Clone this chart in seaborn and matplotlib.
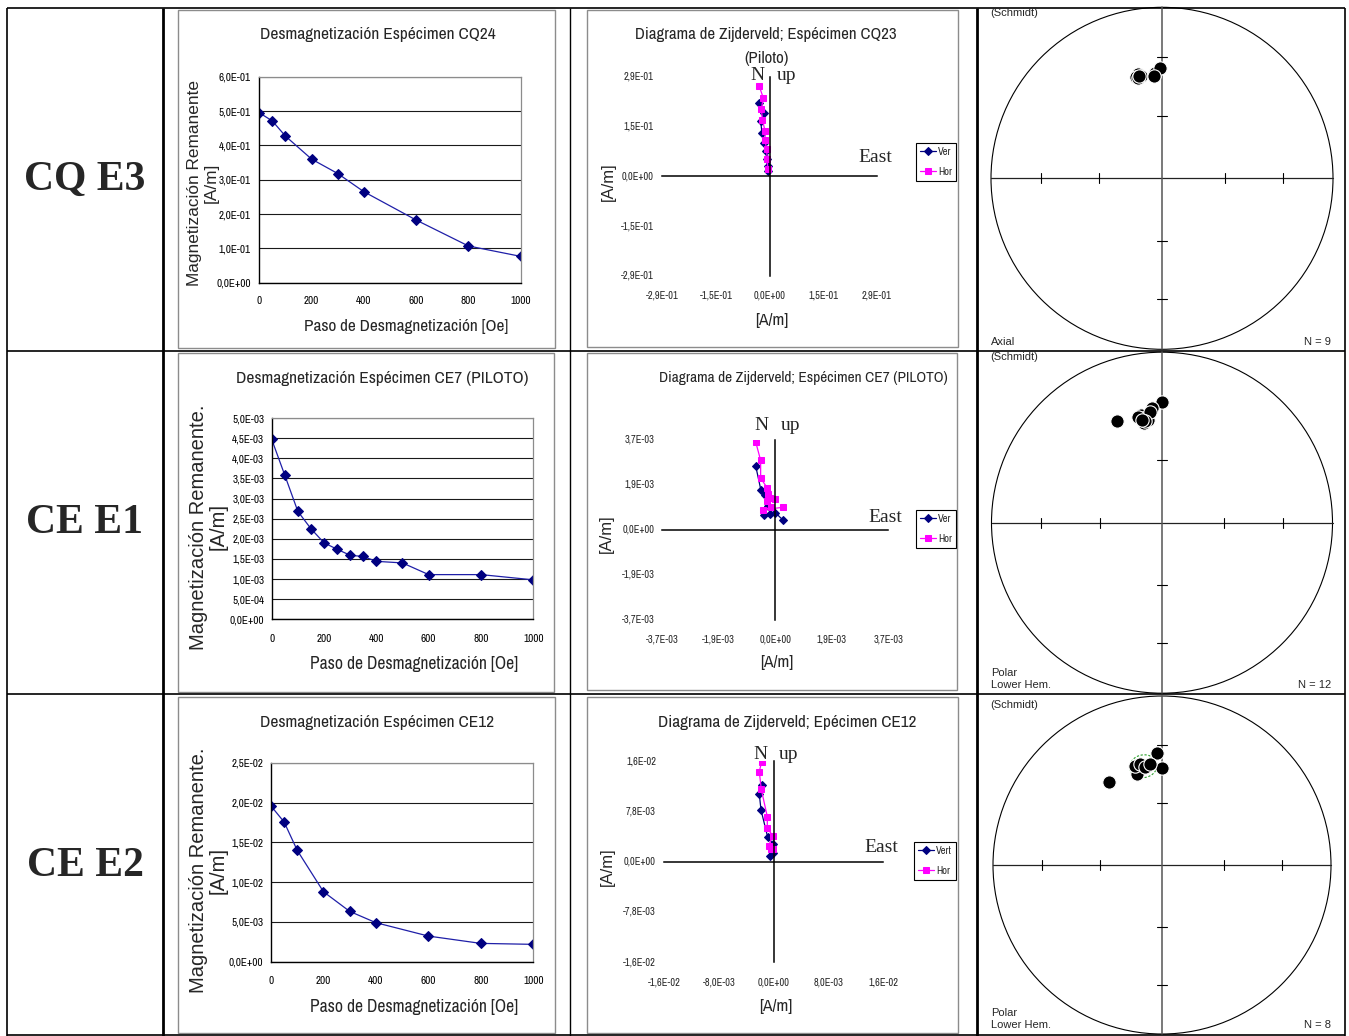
import numpy as np
import matplotlib
matplotlib.use("Agg")
import matplotlib.pyplot as plt
import matplotlib.transforms as mtransforms
from matplotlib.patches import Circle, Rectangle
from matplotlib import font_manager
from matplotlib.font_manager import FontProperties
import seaborn as sns

# ---------------------------------------------------------------- data
row_names = ["CQ E3", "CE E1", "CE E2"]

# demagnetisation curves (step in Oe, remanence in A/m)
steps_cq24 = [0, 50, 100, 200, 300, 400, 600, 800, 1000]
mag_cq24 = [0.495, 0.471, 0.427, 0.360, 0.318, 0.265, 0.1825, 0.107, 0.0767]

steps_ce7 = [0, 50, 100, 150, 200, 250, 300, 350, 400, 500, 600, 800, 1000]
mag_ce7 = [4.47e-3, 3.58e-3, 2.68e-3, 2.25e-3, 1.90e-3, 1.74e-3, 1.59e-3,
           1.56e-3, 1.44e-3, 1.40e-3, 1.11e-3, 1.11e-3, 0.98e-3]

steps_ce12 = [0, 50, 100, 200, 300, 400, 600, 800, 1000]
mag_ce12 = [1.956e-2, 1.755e-2, 1.399e-2, 8.79e-3, 6.32e-3, 4.90e-3,
            3.22e-3, 2.30e-3, 2.18e-3]

step_ticks = [0, 200, 400, 600, 800, 1000]
step_labels = ["0", "200", "400", "600", "800", "1000"]

cq24_yticks = [0.0, 0.1, 0.2, 0.3, 0.4, 0.5, 0.6]
cq24_ylabels = ["0,0E+00", "1,0E-01", "2,0E-01", "3,0E-01", "4,0E-01", "5,0E-01", "6,0E-01"]
ce7_yticks = [0.0, 5e-4, 1e-3, 1.5e-3, 2e-3, 2.5e-3, 3e-3, 3.5e-3, 4e-3, 4.5e-3, 5e-3]
ce7_ylabels = ["0,0E+00", "5,0E-04", "1,0E-03", "1,5E-03", "2,0E-03", "2,5E-03",
               "3,0E-03", "3,5E-03", "4,0E-03", "4,5E-03", "5,0E-03"]
ce12_yticks = [0.0, 5e-3, 1e-2, 1.5e-2, 2e-2, 2.5e-2]
ce12_ylabels = ["0,0E+00", "5,0E-03", "1,0E-02", "1,5E-02", "2,0E-02", "2,5E-02"]

# Zijderveld components (East, North/Up) in A/m
cq23_ver_e = [-0.028, -0.015, -0.024, -0.020, -0.014, -0.010, -0.007, -0.005, -0.004]
cq23_ver_n = [0.213, 0.184, 0.160, 0.125, 0.098, 0.074, 0.050, 0.030, 0.015]
cq23_hor_e = [-0.028, -0.017, -0.022, -0.019, -0.012, -0.012, -0.008, -0.006, -0.005]
cq23_hor_n = [0.263, 0.229, 0.195, 0.165, 0.131, 0.105, 0.080, 0.050, 0.020]
cq23_ticks = [-0.29, -0.145, 0.0, 0.145, 0.29]
cq23_labels = ["-2,9E-01", "-1,5E-01", "0,0E+00", "1,5E-01", "2,9E-01"]

ce7_ver_e = [-6.4e-4, -4.7e-4, -3.4e-4, -2.5e-4, -3.7e-4, -1.7e-4, 0.0, 2.4e-4]
ce7_ver_n = [2.61e-3, 1.62e-3, 1.41e-3, 0.97e-3, 0.59e-3, 0.63e-3, 0.70e-3, 0.41e-3]
ce7_hor_e = [-6.4e-4, -4.8e-4, -4.8e-4, -2.6e-4, -2.3e-4, -1.7e-4, 0.0, -2.6e-4,
             -1.5e-4, -3.9e-4, 2.4e-4]
ce7_hor_n = [3.60e-3, 2.85e-3, 2.12e-3, 1.71e-3, 1.48e-3, 1.32e-3, 1.26e-3, 1.17e-3,
             0.93e-3, 0.82e-3, 0.92e-3]
ce7_zticks = [-3.7e-3, -1.85e-3, 0.0, 1.85e-3, 3.7e-3]
ce7_zlabels = ["-3,7E-03", "-1,9E-03", "0,0E+00", "1,9E-03", "3,7E-03"]

ce12_ver_e = [-1.72e-3, -2.12e-3, -1.87e-3, -0.89e-3, -0.07e-3, -0.07e-3, -0.51e-3]
ce12_ver_n = [1.189e-2, 1.049e-2, 8.01e-3, 3.78e-3, 2.74e-3, 1.30e-3, 0.93e-3]
ce12_hor_e = [-1.77e-3, -2.12e-3, -1.83e-3, -0.95e-3, -0.95e-3, -0.16e-3, -0.75e-3,
              -0.45e-3, -0.07e-3]
ce12_hor_n = [1.55e-2, 1.395e-2, 1.122e-2, 6.98e-3, 5.18e-3, 4.03e-3, 2.48e-3,
              1.97e-3, 1.97e-3]
ce12_xticks = [-0.016, -0.008, 0.0, 0.008, 0.016]
ce12_xlabels = ["-1,6E-02", "-8,0E-03", "0,0E+00", "8,0E-03", "1,6E-02"]
ce12_zyticks = [-0.0156, -0.0078, 0.0, 0.0078, 0.0156]
ce12_zylabels = ["-1,6E-02", "-7,8E-03", "0,0E+00", "7,8E-03", "1,6E-02"]

# Directions for the equal-area nets (declination, inclination in degrees)
e3_dec = [347.2, 345.6, 348.3, 346.3, 355.6, 356.2, 359.1, 347.4, 355.4]
e3_inc = [37.5, 38.6, 38.6, 39.6, 39.3, 38.4, 35.6, 38.4, 39.8]
e1_dec = [336.3, 0.1, 355.2, 348.8, 349.5, 351.6, 349.8, 352.1, 347.4, 353.8, 350.5, 348.8]
e1_inc = [35.0, 29.8, 33.1, 35.8, 37.7, 38.6, 40.2, 39.0, 36.5, 34.8, 39.3, 38.5]
e2_dec = [327.7, 357.3, 0.2, 344.5, 344.7, 347.7, 350.2, 353.2]
e2_inc = [41.3, 33.9, 42.3, 43.4, 39.2, 38.8, 40.6, 39.6]
e2_mean = (349.3, 40.2)
e2_a95 = 6.0
net_tick_incs = [30, 60]

# ---------------------------------------------------------------- fonts
sns.set_theme(style="white")
SANS = ["Liberation Sans", "DejaVu Sans"]
SERIF = ["Liberation Serif", "DejaVu Serif"]
plt.rcParams["font.family"] = SANS


def find_narrow_face():
    best = None
    for f in font_manager.fontManager.ttflist:
        name = f.name.lower()
        stretch = str(f.stretch).lower()
        fname = f.fname.lower()
        if f.style != "normal" or f.weight not in (400, "normal", "regular", "book"):
            continue
        if "bold" in fname or "italic" in fname:
            continue
        if "narrow" in name or "narrow" in fname:
            score = 0
        elif ("condensed" in name or "condensed" in fname or stretch == "condensed") \
                and "extra" not in name and "extra" not in fname \
                and "semi" not in name and "semi" not in fname:
            score = 1
        elif "semicondensed" in fname or stretch == "semi-condensed":
            score = 2
        else:
            continue
        if best is None or score < best[0]:
            best = (score, f.fname)
    return best


_narrow = find_narrow_face()
if _narrow is not None:
    NARROW_FILE, NS = _narrow[1], 1.0
else:
    NARROW_FILE, NS = None, 0.84


def nfont(size):
    if NARROW_FILE is not None:
        return FontProperties(fname=NARROW_FILE, size=size)
    return FontProperties(family=SANS, size=size * NS)


W, H = 1349, 1036
fig = plt.figure(figsize=(W / 100, H / 100), dpi=100)
fig.patch.set_facecolor("white")

page = fig.add_axes([0, 0, 1, 1])
page.set_xlim(0, W)
page.set_ylim(H, 0)
page.axis("off")
page.patch.set_alpha(0)


def px_axes(x0, y0, x1, y1):
    ax = fig.add_axes([x0 / W, 1 - y1 / H, (x1 - x0) / W, (y1 - y0) / H])
    ax.set_facecolor("none")
    return ax


def ptext(x, y, s, **kw):
    kw.setdefault("ha", "center")
    kw.setdefault("va", "center")
    return page.text(x, y, s, **kw)


# table grid
for x0, y0, x1, y1, lw in [(7, 8, 1345, 8, 1.2), (7, 351, 1345, 351, 1.2),
                           (7, 694, 1345, 694, 1.2), (7, 1035, 1345, 1035, 1.2),
                           (7, 8, 7, 1036, 1.2), (163, 8, 163, 1036, 2.0),
                           (570, 8, 570, 1036, 1.0), (977, 8, 977, 1036, 2.0),
                           (1345, 8, 1345, 1036, 1.2)]:
    page.plot([x0, x1], [y0, y1], color="black", lw=lw, solid_capstyle="butt")

for name, yc in zip(row_names, [180, 523, 866]):
    ptext(85, yc, name, fontsize=30, fontweight="bold", family=SERIF)

# chart frames
for x0, y0, x1, y1 in [(178, 10, 555, 348), (587, 10, 958, 347),
                       (178, 353, 554, 692), (587, 353, 957, 690),
                       (178, 697, 555, 1033), (587, 697, 958, 1033)]:
    page.add_patch(Rectangle((x0, y0), x1 - x0, y1 - y0, fill=False,
                             ec="#8c8c8c", lw=1.0))

LINE = "#1f1fa8"
MARK = "#000080"
MAG = "#ff00ff"


def draw_decay(rect, steps, mag, yticks, ylabels, xpad, ypad, title, title_xy,
               ylab, ylab_size, ylab_x, ylab_y, xlab_xy, xlab_size):
    ax = px_axes(*rect)
    ax.yaxis.grid(True, color="#1a1a1a", lw=0.8)
    ax.set_axisbelow(True)
    sns.lineplot(x=steps, y=mag, ax=ax, color=LINE, lw=0.9, marker="D",
                 markersize=5, markerfacecolor=MARK, markeredgecolor=MARK,
                 estimator=None)
    ax.set_xlim(0, 1000)
    ax.set_ylim(yticks[0], yticks[-1])
    ax.set_xticks(step_ticks, step_labels, fontproperties=nfont(8))
    ax.set_yticks(yticks, ylabels, fontproperties=nfont(8))
    ax.set_xlabel("")
    ax.set_ylabel("")
    for side in ("left", "bottom"):
        ax.spines[side].set_color("black")
        ax.spines[side].set_linewidth(1.0)
    for side in ("top", "right"):
        ax.spines[side].set_color("#8c8c8c")
        ax.spines[side].set_linewidth(0.9)
    ax.tick_params(axis="both", direction="out", length=3, width=0.8,
                   color="black", labelcolor="black")
    ax.tick_params(axis="x", pad=xpad)
    ax.tick_params(axis="y", pad=ypad)
    ptext(*title_xy, title, fontproperties=nfont(12.5))
    ptext(ylab_x[0], ylab_y, ylab, rotation=90, family=SANS, fontsize=ylab_size)
    ptext(ylab_x[1], ylab_y, "[A/m]", rotation=90, family=SANS, fontsize=ylab_size)
    ptext(*xlab_xy, "Paso de Desmagnetización [Oe]", fontproperties=nfont(xlab_size))


draw_decay((259.3, 76.7, 520.7, 282.7), steps_cq24, mag_cq24, cq24_yticks,
           cq24_ylabels, 6.5, 3.0, "Desmagnetización Espécimen CQ24", (378, 35),
           "Magnetización Remanente", 12.4, (195.0, 211.0), 183, (405.7, 326.7), 12.4)
draw_decay((271.7, 418, 533.3, 619.3), steps_ce7, mag_ce7, ce7_yticks,
           ce7_ylabels, 7.5, 2.3, "Desmagnetización Espécimen CE7 (PILOTO)",
           (382, 378), "Magnetización Remanente.", 14.5, (198.0, 218.0), 527,
           (414, 663.7), 12.6)
draw_decay((271, 762.7, 533.3, 961.7), steps_ce12, mag_ce12, ce12_yticks,
           ce12_ylabels, 7.3, 2.5, "Desmagnetización Espécimen CE12", (377.5, 723),
           "Magnetización Remanente.", 14.5, (198.0, 218.0), 870, (414, 1006.7), 12.6)


def draw_zij(rect, ver_e, ver_n, hor_e, hor_n, ver_name, xticks, xlabels,
             yticks, ylabels, ylab_right, xlab_y, legend_xy, n_xy, up_x, east_xy,
             title_lines, title_size, axlab_y, axlab_x):
    ax = px_axes(*rect)
    sns.lineplot(x=ver_e, y=ver_n, ax=ax, sort=False, estimator=None, color=MARK,
                 lw=0.9, marker="D", markersize=4, markerfacecolor=MARK,
                 markeredgecolor=MARK, label=ver_name)
    sns.lineplot(x=hor_e, y=hor_n, ax=ax, sort=False, estimator=None, color=MAG,
                 lw=0.9, marker="s", markersize=5, markerfacecolor=MAG,
                 markeredgecolor=MAG, label="Hor")
    ax.set_xlim(xticks[0], xticks[-1])
    ax.set_ylim(yticks[0], yticks[-1])
    ax.set_xlabel("")
    ax.set_ylabel("")
    for side in ("top", "right"):
        ax.spines[side].set_visible(False)
    for side in ("left", "bottom"):
        ax.spines[side].set_position(("data", 0))
        ax.spines[side].set_color("black")
        ax.spines[side].set_linewidth(1.1)
    ax.set_xticks(xticks)
    ax.set_yticks(yticks)
    ax.tick_params(axis="both", direction="inout", length=7, width=0.9,
                   color="black", labelbottom=False, labelleft=False)
    ty = mtransforms.blended_transform_factory(page.transData, ax.transData)
    tx = mtransforms.blended_transform_factory(ax.transData, page.transData)
    for v, s in zip(yticks, ylabels):
        ax.text(ylab_right, v, s, transform=ty, ha="right", va="center",
                fontproperties=nfont(7.5))
    for v, s in zip(xticks, xlabels):
        ax.text(v, xlab_y, s, transform=tx, ha="center", va="center",
                fontproperties=nfont(7.5))
    leg = ax.legend(loc="upper left", bbox_to_anchor=(legend_xy[0] / W, 1 - legend_xy[1] / H),
                    bbox_transform=fig.transFigure, frameon=True, fancybox=False,
                    edgecolor="black", framealpha=1, borderaxespad=0, borderpad=0.35,
                    labelspacing=1.0, handlelength=1.6, handletextpad=0.2,
                    prop=nfont(7.5))
    leg.get_frame().set_linewidth(0.8)
    ptext(n_xy[0], n_xy[1], "N", ha="right", va="baseline", family=SERIF, fontsize=14)
    ptext(up_x, n_xy[1], "up", ha="left", va="baseline", family=SERIF, fontsize=14)
    ptext(*east_xy, "East", va="baseline", family=SERIF, fontsize=14)
    for (tx_, ty_), line in title_lines:
        ptext(tx_, ty_, line, fontproperties=nfont(title_size))
    ptext(axlab_x[0], axlab_y[0], "[A/m]", rotation=90, family=SANS, fontsize=12)
    ptext(axlab_x[1], axlab_y[1], "[A/m]", fontproperties=nfont(12.5))


draw_zij((662.3, 76.7, 876.7, 276), cq23_ver_e, cq23_ver_n, cq23_hor_e, cq23_hor_n,
         "Ver", cq23_ticks, cq23_labels, cq23_ticks, cq23_labels, 654, 296,
         (916, 143), (765, 79.5), 777, (875.5, 161.7),
         [((766, 35), "Diagrama de Zijderveld; Espécimen CQ23"), ((766.7, 58), "(Piloto)")],
         12.1, (181.7, 320), (608.7, 771.7))
draw_zij((662.3, 439.7, 888.3, 619.7), ce7_ver_e, ce7_ver_n, ce7_hor_e, ce7_hor_n,
         "Ver", ce7_zticks, ce7_zlabels, ce7_zticks, ce7_zlabels, 654.3, 639.3,
         (916, 510), (769, 430.3), 781, (885.8, 522),
         [((803, 378), "Diagrama de Zijderveld; Espécimen CE7 (PILOTO)")],
         11.1, (533.7, 662), (606.7, 776.7))
draw_zij((664.3, 761, 883.3, 962.3), ce12_ver_e, ce12_ver_n, ce12_hor_e, ce12_hor_n,
         "Vert", ce12_xticks, ce12_xlabels, ce12_zyticks, ce12_zylabels, 656, 982.3,
         (914, 842), (767.7, 759), 778.3, (881.7, 852.3),
         [((787, 722), "Diagrama de Zijderveld; Epécimen CE12")],
         12.4, (866.7, 1006.7), (607.7, 775.7))


def equal_area(dec, inc):
    dec = np.radians(np.asarray(dec, dtype=float))
    inc = np.radians(np.asarray(inc, dtype=float))
    r = np.sqrt(2) * np.sin((np.pi / 2 - inc) / 2)
    return r * np.sin(dec), r * np.cos(dec)


def small_circle(dec, inc, radius, n=120):
    d, i, a = np.radians(dec), np.radians(inc), np.radians(radius)
    m = np.array([np.cos(i) * np.cos(d), np.cos(i) * np.sin(d), np.sin(i)])
    u1 = np.cross(m, [0, 0, 1.0])
    u1 /= np.linalg.norm(u1)
    u2 = np.cross(m, u1)
    t = np.linspace(0, 2 * np.pi, n)
    v = (np.cos(a) * m[:, None] + np.sin(a) * (np.cos(t) * u1[:, None]
                                               + np.sin(t) * u2[:, None]))
    return np.degrees(np.arctan2(v[1], v[0])), np.degrees(np.arcsin(v[2]))


def draw_net(cx, cy, R, dec, inc, corner_lines, n_label, schmidt_y, a95=None):
    ax = px_axes(cx - R, cy - R, cx + R, cy + R)
    ax.set_xlim(-1, 1)
    ax.set_ylim(-1, 1)
    ax.axis("off")
    ax.add_patch(Circle((0, 0), 1, fill=False, ec="black", lw=0.8, clip_on=False))
    ax.plot([-1, 1], [0, 0], color="#222222", lw=0.9, clip_on=False)
    ax.plot([0, 0], [-1, 1], color="#555555", lw=1.1, clip_on=False)
    half = 5.0 / R
    tick_r, _ = equal_area([90, 90], net_tick_incs)
    for r in tick_r:
        for s in (-1, 1):
            ax.plot([s * r, s * r], [-half, half], color="black", lw=0.8)
            ax.plot([-half, half], [s * r, s * r], color="black", lw=0.8)
    if a95 is not None:
        cd, ci = small_circle(a95[0], a95[1], a95[2])
        gx, gy = equal_area(cd, ci)
        ax.plot(gx, gy, color="#2ca02c", lw=0.8, ls=(0, (2, 1.5)), zorder=1)
    x, y = equal_area(dec, inc)
    sns.scatterplot(x=x, y=y, ax=ax, s=92, color="black", edgecolor="white",
                    linewidth=0.8, legend=False, zorder=3, clip_on=False)
    ptext(990, schmidt_y, "(Schmidt)", ha="left", family=SANS, fontsize=8)
    for (yy, s) in corner_lines:
        ptext(991, yy, s, ha="left", family=SANS, fontsize=8)
    ptext(1331, corner_lines[-1][0], n_label, ha="right", family=SANS, fontsize=8)


draw_net(1162, 178.3, 171, e3_dec, e3_inc, [(341.7, "Axial")], "N = 9", 13)
draw_net(1162, 522.7, 170.5, e1_dec, e1_inc, [(673.3, "Polar"), (685, "Lower Hem.")],
         "N = 12", 357.3)
draw_net(1162, 865, 169, e2_dec, e2_inc, [(1013.3, "Polar"), (1025, "Lower Hem.")],
         "N = 8", 705, a95=(e2_mean[0], e2_mean[1], e2_a95))

fig.savefig("out.png", dpi=100, facecolor="white")
